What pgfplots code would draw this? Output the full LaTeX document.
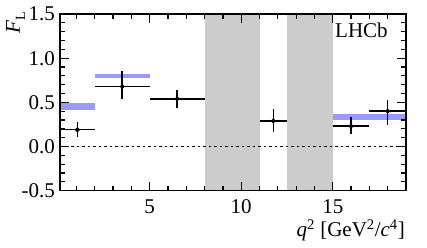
\documentclass[border=0pt]{standalone}
\usepackage{fontspec}
\setmainfont{Liberation Serif}
\usepackage{pgfplots}
\pgfplotsset{compat=1.18}
\definecolor{theo}{RGB}{153,153,255}
\definecolor{veto}{RGB}{204,204,204}
\begin{document}
\fontsize{21}{25}\selectfont
\begin{tikzpicture}
\path[use as bounding box] (-60pt,-56.3pt) rectangle (367pt,190.7pt);
\begin{axis}[
  at={(0,0)}, anchor=south west,
  scale only axis, width=346pt, height=176.7pt,
  xmin=0.1, xmax=19, ymin=-0.5, ymax=1.5,
  xtick={5,10,15}, xticklabels={5,10,15},
  minor xtick={1,2,3,4,6,7,8,9,11,12,13,14,16,17,18,19},
  ytick={-0.5,0,0.5,1,1.5}, yticklabels={-0.5,0.0,0.5,1.0,1.5},
  minor ytick={-0.4,-0.3,-0.2,-0.1,0.1,0.2,0.3,0.4,0.6,0.7,0.8,0.9,1.1,1.2,1.3,1.4},
  tick align=inside, major tick length=9pt, minor tick length=5pt,
  tick style={black, line width=1.2pt},
  axis line style={line width=1.5pt},
  axis on top,
  ticklabel style={font=\fontsize{21}{25}\selectfont, inner sep=0pt},
  yticklabel style={xshift=-5pt},
  xticklabel style={yshift=-9pt},
]
\addplot[fill=veto, draw=none] coordinates {(8,-0.5) (11,-0.5) (11,1.5) (8,1.5)} -- cycle;
\addplot[fill=veto, draw=none] coordinates {(12.5,-0.5) (15,-0.5) (15,1.5) (12.5,1.5)} -- cycle;
\addplot[black, line width=1pt, dash pattern=on 2.5pt off 3pt] coordinates {(0.1,0) (19,0)};
\addplot[fill=theo, draw=none] coordinates {(0.1,0.41) (2,0.41) (2,0.49) (0.1,0.49)} -- cycle;
\addplot[fill=theo, draw=none] coordinates {(2,0.78) (5,0.78) (5,0.82) (2,0.82)} -- cycle;
\addplot[fill=theo, draw=none] coordinates {(15,0.30) (19,0.30) (19,0.37) (15,0.37)} -- cycle;
\addplot[black, only marks, mark=*, mark size=1.6pt, line width=1.5pt,
  error bars/.cd, x dir=both, x explicit, y dir=both, y explicit,
  error mark=none, error bar style={line width=1.5pt, black}]
  coordinates {
  (1.05,0.19) += (0.95,0.09) -= (0.95,0.085)
  (3.5,0.68) += (1.5,0.17) -= (1.5,0.14)
  (6.5,0.54) += (1.5,0.10) -= (1.5,0.10)
  (11.75,0.29) += (0.75,0.14) -= (0.75,0.13)
  (16,0.23) += (1,0.10) -= (1,0.09)
  (18,0.40) += (1,0.13) -= (1,0.16)
  };
\end{axis}
\node[anchor=base west, inner sep=0pt, font=\fontsize{21}{25}\selectfont] at (275pt,153.4pt) {LHCb};
\node[anchor=base east, inner sep=0pt, font=\fontsize{21}{25}\selectfont] at (345pt,-46pt) {\textit{q}\textsuperscript{2} [GeV\textsuperscript{2}/\textit{c}\textsuperscript{4}]};
\node[anchor=base east, rotate=90, inner sep=0pt, font=\fontsize{21}{25}\selectfont] at (-40pt,178.7pt) {\textit{F}\raisebox{-0.25em}{\fontsize{14}{16}\selectfont L}};
\end{tikzpicture}
\end{document}
